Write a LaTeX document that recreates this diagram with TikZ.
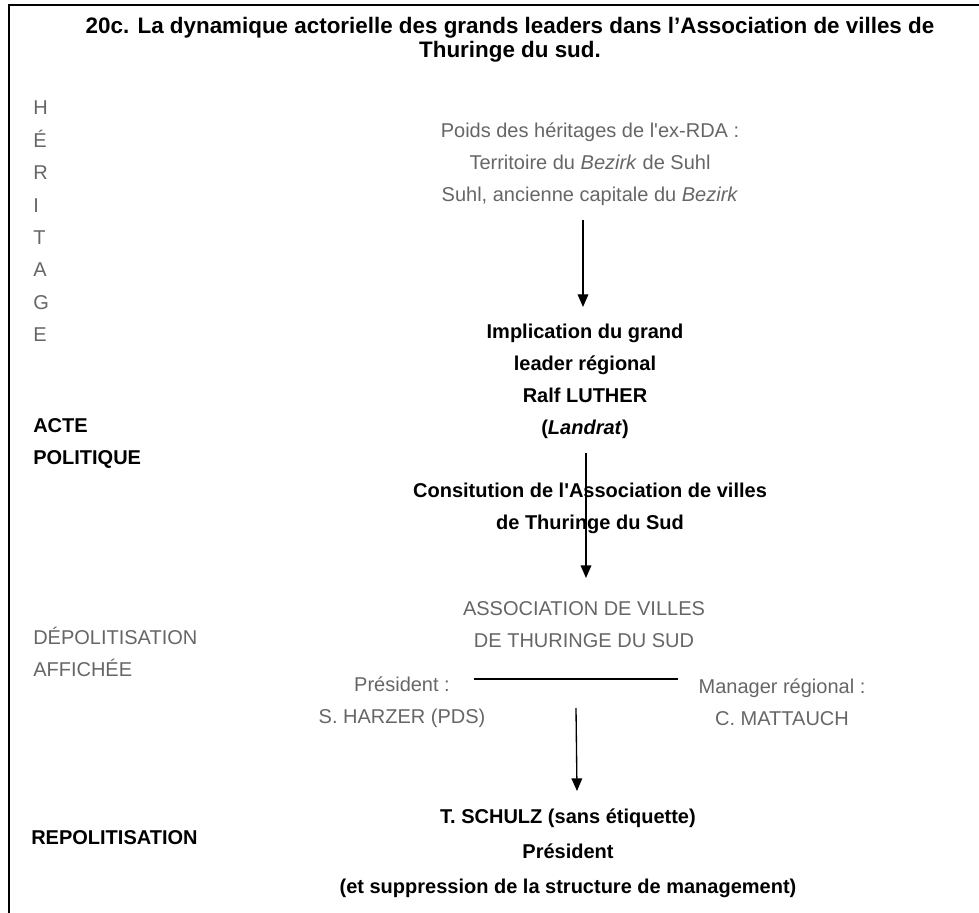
\documentclass[tikz,border=0pt]{standalone}
\usepackage{fontspec}
\setmainfont{Liberation Sans}
\usetikzlibrary{arrows.meta,calc}
\definecolor{fadegray}{RGB}{102,102,102}

\begin{document}
\begin{tikzpicture}[x=0.75pt,y=-0.75pt,every node/.style={inner sep=0pt,font=\fontsize{15}{24}\selectfont}]
\tikzset{gr/.style={text=fadegray},bf/.style={font=\fontsize{15}{24}\selectfont\bfseries},arr/.style={-{Triangle[length=9.5pt,width=8pt]},line width=1pt},side/.style={anchor=west,align=left}}
\useasboundingbox (0,0) rectangle (979,913);
\draw[line width=2pt] (9,913)--(9,5)--(979,5);
\node[align=center,font=\fontsize{16.8}{18}\selectfont\bfseries] (title) at (510,40) {20c. La dynamique actorielle des grands leaders dans l’Association de villes de\\Thuringe du sud.};
\foreach \l [count=\i from 0] in {H,É,R,I,T,A,G,E}
  \node[gr,anchor=base west] (her\i) at (33,{115+32.4*\i}) {\l};
\node[gr,align=center] (poids) at (590,164) {Poids des héritages de l\textquotesingle ex-RDA :\\Territoire du \textit{Bezirk} de Suhl\\Suhl, ancienne capitale du \textit{Bezirk}};
\node[bf,align=center] (impl) at (585,381) {Implication du grand\\leader régional\\Ralf LUTHER\\(\textit{Landrat})};
\node[bf,side] (acte) at (33,443) {ACTE\\POLITIQUE};
\node[bf,align=center] (consti) at (590,508) {Consitution de l\textquotesingle Association de villes\\de Thuringe du Sud};
\node[gr,align=center] (assoc) at (584,625) {ASSOCIATION DE VILLES\\DE THURINGE DU SUD};
\node[gr,side] (depol) at (33,652) {DÉPOLITISATION\\AFFICHÉE};
\node[gr,align=center] (pres) at (402,702) {Président :\\S. HARZER (PDS)};
\node[gr,align=center] (mgr) at (782,702) {Manager régional :\\C. MATTAUCH};
\node[bf,align=center,font=\fontsize{15}{26.25}\selectfont\bfseries] (schulz) at (568,853) {T. SCHULZ (sans étiquette)\\Président\\(et suppression de la structure de management)};
\node[bf,anchor=west] (repol) at (31,838) {REPOLITISATION};
\coordinate (barL) at ($(pres)+(72,-23)$); \coordinate (barR) at ($(mgr)+(-104,-23)$);
\draw[line width=2pt] (barL) -- (barR);
\draw[arr] ($(poids)+(-7,56)$) -- ($(impl)+(-2,-74)$);
\draw[arr] ($(impl)+(1,72)$) -- ($(assoc)+(2,-47)$);
\draw[arr] ($(barL)!.5!(barR)+(0,29)$) -- ($(schulz)+(9,-62)$);
\end{tikzpicture}
\end{document}
